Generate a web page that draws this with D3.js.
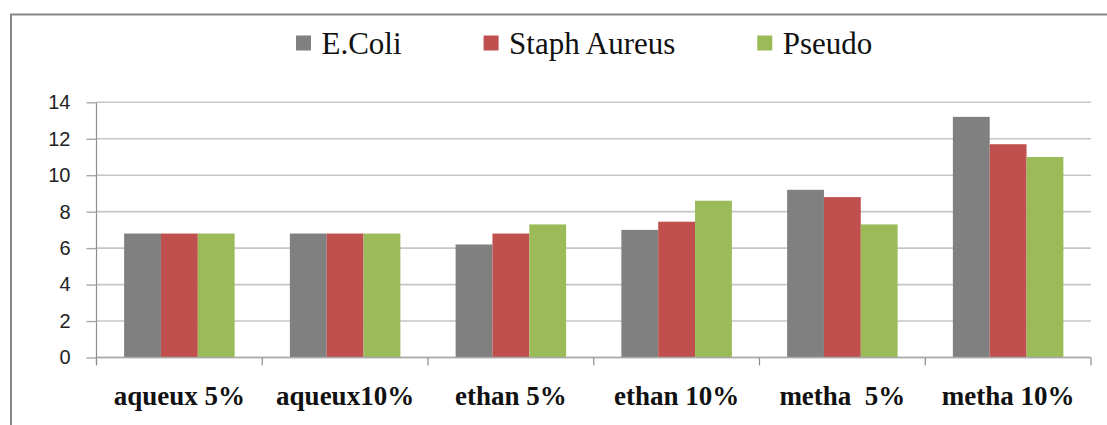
<!DOCTYPE html>
<html>
<head>
<meta charset="utf-8">
<script src="https://cdn.jsdelivr.net/npm/d3@7"></script>
<style>
  html, body { margin: 0; padding: 0; background: #fff; }
  svg { display: block; }
</style>
</head>
<body>
<svg id="chart" width="1107" height="425"></svg>
<script>
// Inhibition zone per extract and bacterial strain
const categories = ["aqueux 5%", "aqueux10%", "ethan 5%", "ethan 10%", "metha  5%", "metha 10%"];
const seriesNames = ["E.Coli", "Staph Aureus", "Pseudo"];
const eColi = [6.8, 6.8, 6.2, 7.0, 9.2, 13.2];
const staphAureus = [6.8, 6.8, 6.8, 7.45, 8.8, 11.7];
const pseudo = [6.8, 6.8, 7.3, 8.6, 7.3, 11.0];
const yTicks = [0, 2, 4, 6, 8, 10, 12, 14];
const seriesColors = ["#808080", "#c0504d", "#9bbb59"];

const seriesValues = [eColi, staphAureus, pseudo];
const rows = categories.map((c, i) => ({
  category: c,
  values: seriesNames.map((s, k) => ({ series: s, value: seriesValues[k][i] }))
}));

const svg = d3.select("#chart");
const W = 1107, H = 425;
const plot = { left: 96.5, right: 1091, top: 102.3, bottom: 357.5 };

// chart frame
svg.append("rect")
  .attr("x", 11).attr("y", 14.5)
  .attr("width", W + 20).attr("height", H + 20)
  .attr("fill", "none").attr("stroke", "#878787").attr("stroke-width", 2);

const y = d3.scaleLinear().domain([0, 14]).range([plot.bottom, plot.top]);

const x = d3.scaleBand().domain(categories)
  .range([plot.left, plot.right])
  .paddingInner(1 / 3).paddingOuter(1 / 6);
const xCell = d3.scaleBand().domain(categories).range([plot.left, plot.right]).padding(0);
const xSeries = d3.scaleBand().domain(seriesNames).range([0, x.bandwidth()]);
const color = d3.scaleOrdinal().domain(seriesNames).range(seriesColors);

// gridlines
svg.append("g").selectAll("line").data(yTicks).join("line")
  .attr("x1", plot.left).attr("x2", plot.right)
  .attr("y1", d => y(d)).attr("y2", d => y(d))
  .attr("stroke", "#c6c6c6").attr("stroke-width", 1.6);

// bars
svg.append("g").selectAll("g").data(rows).join("g")
  .attr("transform", d => `translate(${x(d.category)},0)`)
  .selectAll("rect").data(d => d.values).join("rect")
  .attr("x", d => xSeries(d.series))
  .attr("width", xSeries.bandwidth())
  .attr("y", d => y(d.value))
  .attr("height", d => y(0) - y(d.value))
  .attr("fill", d => color(d.series));

// y axis
const yAxis = svg.append("g")
  .attr("transform", `translate(${plot.left},0)`)
  .call(d3.axisLeft(y).tickValues(yTicks).tickSize(10).tickPadding(16).tickSizeOuter(0));
yAxis.select(".domain").attr("stroke", "#8c8c8c").attr("stroke-width", 1.2)
  .attr("d", `M0,${plot.top}V${plot.bottom + 7}`);
yAxis.selectAll(".tick line").attr("stroke", "#a8a8a8").attr("stroke-width", 1.4);
yAxis.selectAll(".tick text")
  .attr("font-family", "'Liberation Sans', Arial, sans-serif")
  .attr("font-size", 20).attr("fill", "#222");

// x axis with ticks at category boundaries
const xAxis = svg.append("g");
xAxis.append("line")
  .attr("x1", plot.left).attr("x2", plot.right)
  .attr("y1", y(0)).attr("y2", y(0))
  .attr("stroke", "#a8a8a8").attr("stroke-width", 1.4);
const bounds = categories.map(c => xCell(c)).concat([plot.right]);
xAxis.selectAll("line.tk").data(bounds).join("line").attr("class", "tk")
  .attr("x1", d => d).attr("x2", d => d)
  .attr("y1", y(0)).attr("y2", y(0) + 8)
  .attr("stroke", "#8c8c8c").attr("stroke-width", 1.2);
xAxis.selectAll("text").data(categories).join("text")
  .attr("x", d => xCell(d) + xCell.bandwidth() / 2)
  .attr("y", 405)
  .attr("text-anchor", "middle")
  .style("white-space", "pre")
  .attr("font-family", "'Liberation Serif', 'Times New Roman', serif")
  .attr("font-weight", "bold")
  .attr("font-size", 27)
  .attr("fill", "#111")
  .text(d => d);

// legend
const legend = svg.append("g");
let lx = 296;
seriesNames.forEach(s => {
  legend.append("rect")
    .attr("x", lx).attr("y", 35.5).attr("width", 15).attr("height", 15)
    .attr("fill", color(s));
  const t = legend.append("text")
    .attr("x", lx + 25.5).attr("y", 54)
    .attr("font-family", "'Liberation Serif', 'Times New Roman', serif")
    .attr("font-size", 31)
    .attr("fill", "#111")
    .text(s);
  lx += 25.5 + t.node().getComputedTextLength() + 82;
});
</script>
</body>
</html>
